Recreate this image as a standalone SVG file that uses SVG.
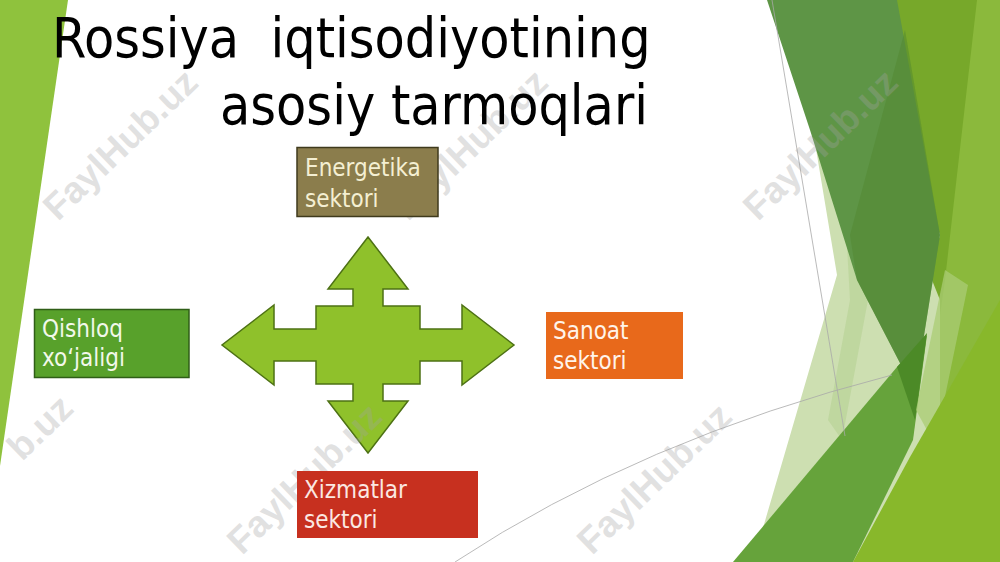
<svg xmlns="http://www.w3.org/2000/svg" width="1000" height="562" viewBox="0 0 1000 562">
<style>
.title{font-family:"DejaVu Sans Condensed","DejaVu Sans",sans-serif;font-size:55px;fill:#000;white-space:pre}
.lbl{font-family:"DejaVu Sans Condensed","DejaVu Sans",sans-serif;font-size:24px}
.wm{font-family:"Liberation Sans",Arial,sans-serif;font-weight:bold;font-size:37px;fill:#a3a3a3;opacity:0.32}
.thin{fill:none;stroke:#a8a8a8;stroke-width:0.8}
</style>
<rect width="1000" height="562" fill="#ffffff"/>
<g id="decor-left">
<polygon points="0,0 68,0 0,466" fill="#8fc23d"/>
</g>
<g id="decor-right">
<polygon points="860,0 1000,0 1000,562 850,562 940,235" fill="#77a82a"/>
<polygon points="977,0 1000,0 1000,562 905,562 945,280" fill="#8bb93c"/>
<polygon points="812,125 870,125 940,300 940,562 753,562 837,275" fill="#cddfb1"/>
<polygon points="845,210 868,300 842,440 828,420 850,300" fill="#bcd49b" opacity="0.8"/>
<polygon points="767,0 897,0 940,235 915,392 857,280 810,130" fill="#5e9546"/>
<polygon points="905,30 940,235 915,392 857,280 850,235" fill="#52882f" opacity="0.5"/>
<polygon points="733,562 897,367 927,335 913,440 853,562" fill="#66a33b"/>
<polygon points="897,367 927,333 915,420" fill="#4c8a27"/>
<polygon points="916,410 945,270 968,285 935,445" fill="#a9cc74" opacity="0.75"/>
<polygon points="853,562 910,457 1000,300 1000,562" fill="#88b82b"/>
<line class="thin" x1="772" y1="0" x2="845" y2="436"/>
<path class="thin" d="M455,562 Q640,440 892,375"/>
</g>
<g id="connectors">
<path id="quad-arrow" d="M368,237 L408,289 L383,289 L383,306 L420,306 L420,329 L462,329 L462,305 L514,345 L462,385 L462,361 L420,361 L420,384 L383,384 L383,401 L408,401 L368,453 L328,401 L353,401 L353,384 L316,384 L316,361 L274,361 L274,385 L222,345 L274,305 L274,329 L316,329 L316,306 L353,306 L353,289 L328,289 Z" fill="#8fc12b" stroke="#4d7114" stroke-width="1.5" stroke-linejoin="miter"/>
</g>
<g id="watermarks">
<text class="wm" transform="translate(58,222) rotate(-44)">FaylHub.uz</text>
<text class="wm" transform="translate(408,222) rotate(-44)">FaylHub.uz</text>
<text class="wm" transform="translate(758,222) rotate(-44)">FaylHub.uz</text>
<text class="wm" transform="translate(22,462) rotate(-44)">b.uz</text>
<text class="wm" transform="translate(242,556) rotate(-44)">FaylHub.uz</text>
<text class="wm" transform="translate(592,556) rotate(-44)">FaylHub.uz</text>
</g>
<g id="title">
<text class="title" x="52" y="57" xml:space="preserve">Rossiya  iqtisodiyotining</text>
<text class="title" x="648" y="124" text-anchor="end">asosiy tarmoqlari</text>
</g>
<g id="node-energetika">
<rect x="297" y="147.5" width="141" height="69" fill="#8b7d4c" stroke="#3f3a1c" stroke-width="1.5"/>
<text class="lbl" x="305" y="176" fill="#f4efd2">Energetika</text>
<text class="lbl" x="305" y="207" fill="#f4efd2">sektori</text>
</g>
<g id="node-qishloq">
<rect x="34.5" y="309.5" width="154.5" height="68" fill="#58a12b" stroke="#2f5e17" stroke-width="1.5"/>
<text class="lbl" x="42" y="337" fill="#f2f8ea">Qishloq</text>
<text class="lbl" x="42" y="366" fill="#f2f8ea">xo‘jaligi</text>
</g>
<g id="node-sanoat">
<rect x="546" y="312" width="137" height="67" fill="#e8691b"/>
<text class="lbl" x="553" y="339" fill="#fff4ea">Sanoat</text>
<text class="lbl" x="553" y="369" fill="#fff4ea">sektori</text>
</g>
<g id="node-xizmatlar">
<rect x="297" y="471" width="181" height="67" fill="#c7301f"/>
<text class="lbl" x="304" y="498" fill="#fbe8e2">Xizmatlar</text>
<text class="lbl" x="304" y="528" fill="#fbe8e2">sektori</text>
</g>
</svg>
